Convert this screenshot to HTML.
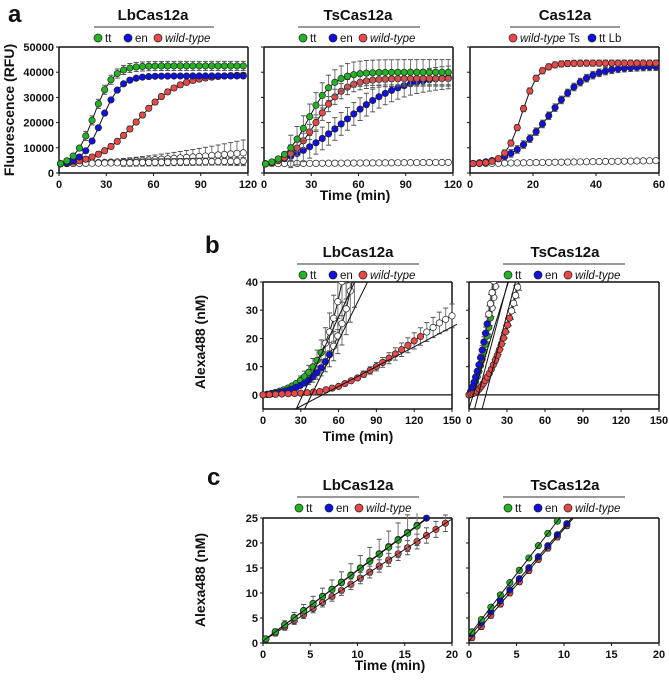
<!DOCTYPE html>
<html><head><meta charset="utf-8"><style>
html,body{margin:0;padding:0;background:#fff}
svg{display:block;font-family:"Liberation Sans",Arial,sans-serif}
</style></head><body>
<svg id="s" width="669" height="680" viewBox="0 0 669 680" xmlns="http://www.w3.org/2000/svg"></svg>
<script>
const S=document.getElementById('s');let h='';let defs='';let cid=0;
const G='#22b422',B='#1010e0',R='#e84848';
function t(x,y,s,o){o=o||{};h+=`<text x="${x}" y="${y}" font-size="${o.fs||11}" font-weight="${o.fw||'bold'}" text-anchor="${o.a||'middle'}" ${o.tr?'transform="'+o.tr+'"':''} fill="#111">${s}</text>`;}
function L(x1,y1,x2,y2,c,w){h+=`<line x1="${x1}" y1="${y1}" x2="${x2}" y2="${y2}" stroke="${c||'#111'}" stroke-width="${w||1}"/>`;}
function C(x,y,f,r){h+=`<circle cx="${x}" cy="${y}" r="${r||3.2}" fill="${f}" stroke="#222" stroke-width="0.7"/>`;}
function panel(P){
 const X=v=>P.x0+(v-P.xmin)/(P.xmax-P.xmin)*(P.x1-P.x0);
 const Y=v=>P.y0-(v-P.ymin)/(P.ymax-P.ymin)*(P.y0-P.y1);
 P.X=X;P.Y=Y;P.id='c'+(cid++);
 const pad=P.tight?0:5;
 defs+=`<clipPath id="${P.id}"><rect x="${P.x0-5}" y="${P.y1-pad}" width="${P.x1-P.x0+10}" height="${P.y0-P.y1+pad+5}"/></clipPath>`;
 L(P.x0,P.y1,P.x0,P.y0,'#111',1.5);L(P.x0,P.y0,P.x1,P.y0,'#111',1.5);
 if(P.box){L(P.x0,P.y1,P.x1,P.y1,'#111',1.5);L(P.x1,P.y1,P.x1,P.y0,'#111',1.5);}
 P.xt.forEach(v=>{L(X(v),P.y0,X(v),P.y0+3);t(X(v),P.y0+15,v);});
 P.yt.forEach(v=>{L(P.x0-3,Y(v),P.x0,Y(v));if(P.yl)t(P.x0-5,Y(v)+4,v,{a:'end'});});
 return P;
}
function series(P,pts,fill,err,line){
 h+=`<g clip-path="url(#${P.id})">`;
 if(line!==false){h+=`<polyline fill="none" stroke="#111" stroke-width="1" points="${pts.map(p=>P.X(p[0])+','+P.Y(p[1])).join(' ')}"/>`;}
 pts.forEach(p=>{if(err){const e=err(p);if(e>0){const x=P.X(p[0]),yt=P.Y(p[1]+e),yb=P.Y(p[1]-e);L(x,yt,x,yb,'#777',1);L(x-2.5,yt,x+2.5,yt,'#555');L(x-2.5,yb,x+2.5,yb,'#555');}}});
 pts.forEach(p=>{C(P.X(p[0]),P.Y(p[1]),p[2]||fill);});
 h+='</g>';
}
function sig(lo,hi,m,w){const s=t=>1/(1+Math.exp(-(t-m)/w));const s0=s(0);return t=>lo+(hi-lo)*Math.max(0,(s(t)-s0)/(1-s0));}
function rng(a,b,s){const r=[];for(let v=a;v<=b+1e-9;v+=s)r.push(v);return r;}
function interp(tab){return v=>{for(let i=1;i<tab.length;i++){if(v<=tab[i][0]){const a=tab[i-1],b=tab[i];return a[1]+(b[1]-a[1])*(v-a[0])/(b[0]-a[0]);}}return tab[tab.length-1][1];};}
function head(cx,y,title,legend,x1,x2){t(cx,y,title,{fs:15});L(x1,y+7,x2,y+7,'#333',1);
 let x=legend.x;legend.items.forEach(it=>{C(x,y+18,it[0],4);h+=`<text x="${x+7}" y="${y+22}" font-size="11.5" fill="#111">${it[1]}</text>`;x+=it[2];});}
const WT='<tspan font-style="italic">wild-type</tspan>';
// ---------- panel a
t(8,22,'a',{fs:24,a:'start'});
const ylab=[0,10000,20000,30000,40000,50000];
const a1=panel({x0:59,x1:248,y0:173,y1:47,xmin:0,xmax:120,ymin:0,ymax:50000,xt:[0,30,60,90,120],yt:ylab,yl:1,box:1});
const a2=panel({x0:264,x1:453,y0:173,y1:47,xmin:0,xmax:120,ymin:0,ymax:50000,xt:[0,30,60,90,120],yt:ylab,box:1});
const a3=panel({x0:470,x1:659,y0:173,y1:47,xmin:0,xmax:60,ymin:0,ymax:50000,xt:[0,20,40,60],yt:ylab,box:1});
t(14,110,'Fluorescence (RFU)',{fs:14,tr:'rotate(-90 14 110)'});
t(355,200,'Time (min)',{fs:14});
head(153,20,'LbCas12a',{x:98,items:[[G,'tt',30],[B,'en',30],[R,WT,0]]},94,214);
head(358,20,'TsCas12a',{x:303,items:[[G,'tt',30],[B,'en',30],[R,WT,0]]},298,420);
head(565,20,'Cas12a',{x:513,items:[[R,WT+' Ts',79],[B,'tt Lb',0]]},510,620);
let T=rng(1,117,4);
series(a1,T.map(v=>[v,3700+4300*Math.pow(v/117,1.5)]),'#fff',p=>p[0]>40?600+4500*Math.pow(p[0]/117,2):200,false);
series(a1,T.map(v=>[v,3700+1000*v/117]),'#fff',p=>p[0]>40?1400:200,false);
series(a1,T.map(v=>[v,sig(3600,39000,50,13)(v)]),R,p=>1000);
series(a1,T.map(v=>[v,sig(3600,38500,27,6)(v)]),B,p=>700);
series(a1,T.map(v=>[v,sig(3600,42500,22,6)(v)]),G,p=>p[0]>15?1800:300);
series(a2,T.map(v=>[v,3700+500*v/117]),'#fff',null,false);
series(a2,T.map(v=>[v,sig(3500,39000,50,19)(v)]),B,p=>p[0]>15?4500:300);
series(a2,T.map(v=>[v,sig(3500,37500,33,9)(v)]),R,p=>p[0]>15?3000:300);
series(a2,T.map(v=>[v,sig(3500,40000,28,8)(v)]),G,p=>p[0]>15?5000:300);
let T3=rng(1,59,2);
series(a3,T3.map(v=>[v,3700+1200*v/59]),'#fff',p=>p[0]>25?600:0,false);
series(a3,T3.map(v=>[v,sig(3700,42300,25,6)(v)]),B,p=>p[0]>10?1500:200);
series(a3,T3.map(v=>[v,sig(3700,43600,16.5,2.6)(v)]),R,p=>p[0]>10?1200:200);
// ---------- panel b
t(205,253,'b',{fs:24,a:'start'});
const b1=panel({x0:263,x1:452,y0:409,y1:282,xmin:0,xmax:150,ymin:-5,ymax:40,xt:[0,30,60,90,120,150],yt:[0,10,20,30,40],yl:1,box:1,tight:1});
const b2=panel({x0:469,x1:659,y0:409,y1:282,xmin:0,xmax:150,ymin:-5,ymax:40,xt:[0,30,60,90,120,150],yt:[0,10,20,30,40],box:1,tight:1});
t(205,342,'Alexa488 (nM)',{fs:14,tr:'rotate(-90 205 342)'});
t(358,441,'Time (min)',{fs:14});
head(358,257,'LbCas12a',{x:303,items:[[G,'tt',30],[B,'en',30],[R,WT,0]]},297,419);
head(565,257,'TsCas12a',{x:508,items:[[G,'tt',30],[B,'en',30],[R,WT,0]]},503,625);
[b1,b2].forEach(P=>L(P.x0,P.Y(0),P.x1,P.Y(0),'#111',1.2));
function bser(P,f,tmax,tend,step,col,ee){const pts=rng(0,tend,step).map(v=>[v,f(v),v<=tmax?col:'#fff']);series(P,pts,col,p=>p[0]>tmax*0.6?ee*p[1]/20:0);}
function tang(P,x0,slope){const xa=x0-5/slope, xb=x0+45/slope;h+=`<g clip-path="url(#${P.id})">`;L(P.X(xa),P.Y(-5),P.X(xb),P.Y(40),'#111',1);h+='</g>';}
bser(b1,v=>1.17*(Math.exp(v/17.6)-1),49,66,3.3,G,6);
bser(b1,v=>0.8*(Math.exp(v/18)-1),56,75,3.3,B,6);
bser(b1,interp([[0,0],[30,0.6],[45,1.2],[60,3],[75,6],[90,10],[110,16],[126,21],[140,25.5],[150,28]]),126,150,5,R,3);
tang(b1,31,1.08);tang(b1,38,1.0);tang(b1,45,0.26);
bser(b2,v=>0.6*v+0.06*v*v,17,24,1.3,G,2);
bser(b2,v=>0.9*v+0.06*v*v,15,22,1.3,B,2);
bser(b2,v=>v<5?0.15*v:0.3*(v-3)+0.022*Math.pow(v-3,2),33,40,1.6,R,2);
tang(b2,3,1.6);tang(b2,7,1.9);tang(b2,13,1.9);
// ---------- panel c
t(207,485,'c',{fs:24,a:'start'});
const c1=panel({x0:263,x1:452,y0:643,y1:518,xmin:0,xmax:20,ymin:0,ymax:25,xt:[0,5,10,15,20],yt:[0,5,10,15,20,25],yl:1,box:1});
const c2=panel({x0:469,x1:659,y0:643,y1:518,xmin:0,xmax:20,ymin:0,ymax:25,xt:[0,5,10,15,20],yt:[0,5,10,15,20,25],box:1});
t(205,580,'Alexa488 (nM)',{fs:14,tr:'rotate(-90 205 580)'});
t(390,670,'Time (min)',{fs:14});
head(358,490,'LbCas12a',{x:299,items:[[G,'tt',30],[B,'en',30],[R,WT,0]]},297,419);
head(565,490,'TsCas12a',{x:508,items:[[G,'tt',30],[B,'en',30],[R,WT,0]]},503,625);
function lin(P,a,b,tend,col,ef){const pts=rng(0.3,tend,1).map(v=>[v,a+b*v]);series(P,pts,col,ef,false);const xe=Math.min(20,(25-a)/b);h+=`<g clip-path="url(#${P.id})">`;L(P.X(0),P.Y(a),P.X(xe),P.Y(a+b*xe),'#111',1);h+='</g>';}
lin(c1,0.4,1.22,19.3,R,p=>0.5+p[0]*0.06);
lin(c1,0.4,1.42,17.3,B,p=>0.3);
lin(c1,0.4,1.41,16.3,G,p=>0.3+p[0]*0.22);
lin(c2,0.4,2.24,10.3,R,p=>0.6);
lin(c2,1.2,2.2,10.3,B,p=>0.4);
lin(c2,1.5,2.46,9.3,G,p=>0.3);
S.innerHTML='<defs>'+defs+'</defs>'+h;
</script>
</body></html>
